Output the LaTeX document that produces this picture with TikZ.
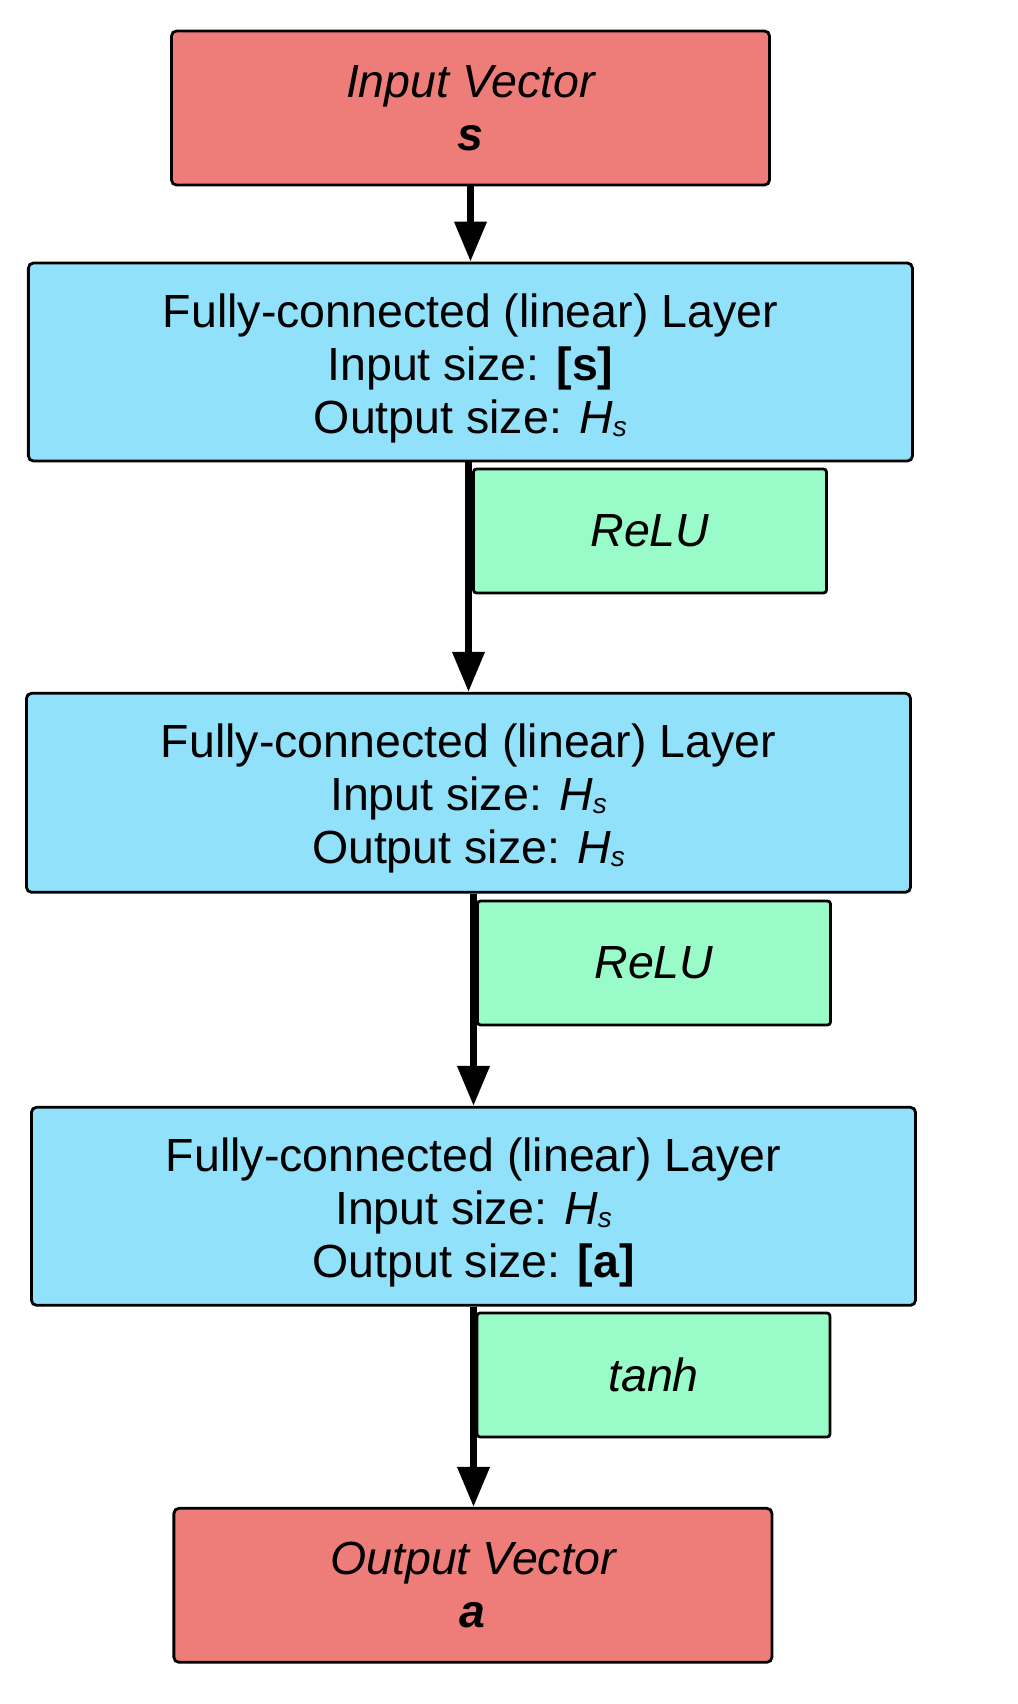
\documentclass[tikz,border=0pt]{standalone}
\usepackage{fontspec}
\setmainfont{Liberation Sans}
\usetikzlibrary{arrows.meta}
\definecolor{vecred}{RGB}{238,124,121}
\definecolor{layerblue}{RGB}{145,225,250}
\definecolor{actgreen}{RGB}{153,251,199}
\tikzset{
  box/.style={draw=black, line width=2.8bp, rounded corners=5bp, inner sep=0pt, align=center,
    font=\fontsize{46.5bp}{53bp}\selectfont},
  vecbox/.style={box, fill=vecred, minimum width=598bp, minimum height=154bp},
  layerbox/.style={box, fill=layerblue, minimum width=884bp, minimum height=198bp},
  actbox/.style={box, fill=actgreen, minimum width=353bp, minimum height=124bp, rounded corners=3bp},
  arr/.style={line width=7bp, -{Triangle[length=40bp,width=31bp]}}
}
\newcommand{\Hsub}{{\itshape H\raisebox{-3bp}{\fontsize{28bp}{30bp}\selectfont s}}}
\newcommand{\topstrut}{\rule{0pt}{46bp}}
\begin{document}
\begin{tikzpicture}[x=1bp,y=-1bp]
\useasboundingbox (0,0) rectangle (1017,1704);
\node[vecbox] (in) at (470.5,108) {\itshape Input Vector\\ \bfseries\itshape s};
\node[layerbox] (fc1) at (470.4,362) {\topstrut Fully-connected (linear) Layer\\ Input size: \textbf{[s]}\\ Output size: \Hsub};
\node[layerbox, minimum height=199bp] (fc2) at (468.5,792.8) {\topstrut Fully-connected (linear) Layer\\ Input size: \Hsub\\ Output size: \Hsub};
\node[layerbox] (fc3) at (473.5,1206.3) {\topstrut Fully-connected (linear) Layer\\ Input size: \Hsub\\ Output size: \textbf{[a]}};
\node[vecbox] (out) at (472.9,1585.3) {\itshape Output Vector\\ \bfseries\itshape a};
\draw[arr] (in.south) -- (in.south |- fc1.north);
\draw[arr] (fc2.north |- fc1.south) -- (fc2.north);
\draw[arr] (fc3.north |- fc2.south) -- (fc3.north);
\draw[arr] (fc3.south) -- (fc3.south |- out.north);
\node[actbox] (relu1) at (650,531) {\itshape ReLU};
\node[actbox] (relu2) at (654,963) {\itshape ReLU};
\node[actbox] (tanh) at (653.5,1375) {\itshape tanh};
\end{tikzpicture}
\end{document}
